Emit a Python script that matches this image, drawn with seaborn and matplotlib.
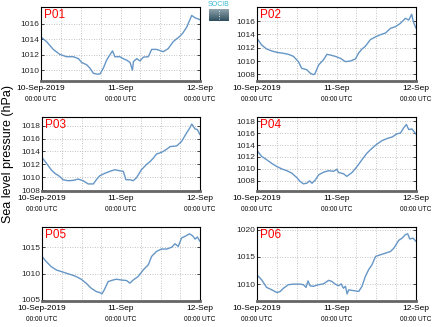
import numpy as np
import pandas as pd
import matplotlib
matplotlib.use("Agg")
import matplotlib.pyplot as plt
import seaborn as sns
from matplotlib.colors import LinearSegmentedColormap

sns.set_theme(style="white")
plt.rcParams['font.family'] = ['Liberation Sans', 'DejaVu Sans']

# hours since 10-Sep-2019 00:00 UTC
p01_h = [0, 1.7, 3.7, 5.7, 7.7, 9.8, 11.3, 12.3, 13.8, 14.8, 15.8, 16.8, 17.8, 18.8, 19.8, 20.8, 21.6, 22.3, 23.8, 24.8, 25.9, 26.9, 27.6, 27.9, 28.9, 29.9, 30.9, 32.4, 33.4, 34.9, 36.9, 38.4, 39.9, 41.9, 42.7, 44.0, 45.5, 46.5, 48.0]
p01_v = [1014.3, 1013.7, 1012.7, 1012.05, 1011.75, 1011.75, 1011.5, 1011.0, 1010.7, 1010.25, 1009.6, 1009.5, 1009.5, 1010.25, 1011.3, 1012.0, 1012.5, 1011.75, 1011.75, 1011.5, 1011.3, 1011.0, 1010.0, 1011.1, 1011.5, 1011.2, 1011.7, 1011.75, 1012.7, 1012.7, 1012.4, 1012.8, 1013.7, 1014.4, 1014.75, 1015.6, 1017.1, 1016.8, 1016.55]

p02_h = [0, 1.4, 2.9, 4.5, 6.0, 8.0, 9.5, 11.0, 12.5, 13.5, 15.0, 16.0, 17.0, 17.5, 18.6, 20.1, 21.1, 22.1, 23.6, 25.2, 26.7, 28.2, 29.7, 30.7, 31.7, 32.7, 34.2, 35.7, 37.3, 38.8, 40.3, 41.8, 43.3, 44.8, 45.8, 46.7, 47.2, 48.0]
p02_v = [1013.4, 1012.4, 1011.8, 1011.5, 1011.3, 1011.15, 1011.0, 1010.7, 1009.9, 1008.9, 1008.7, 1008.2, 1007.95, 1008.1, 1009.4, 1010.2, 1011.0, 1010.9, 1010.7, 1010.4, 1009.9, 1010.0, 1010.3, 1011.2, 1011.8, 1012.2, 1013.2, 1013.6, 1013.95, 1014.2, 1014.9, 1015.15, 1015.65, 1016.4, 1016.15, 1017.0, 1015.9, 1014.9]

p03_h = [0, 1.3, 2.8, 3.9, 5.4, 6.4, 7.9, 9.5, 11.0, 12.5, 14.0, 15.6, 16.5, 17.5, 19.1, 20.6, 22.1, 23.6, 24.7, 25.5, 26.7, 27.7, 28.7, 30.2, 31.8, 32.8, 33.8, 34.8, 36.3, 37.9, 38.9, 40.9, 42.4, 43.9, 44.9, 45.5, 46.5, 47.2, 48.0]
p03_v = [1013.05, 1012.2, 1011.15, 1010.6, 1010.1, 1009.6, 1009.45, 1009.5, 1009.7, 1009.45, 1008.95, 1008.95, 1009.6, 1010.2, 1010.6, 1010.9, 1011.15, 1011.0, 1010.9, 1009.6, 1009.6, 1009.45, 1009.9, 1011.15, 1012.0, 1012.4, 1012.95, 1013.6, 1013.85, 1014.35, 1014.75, 1014.85, 1015.55, 1016.85, 1017.65, 1018.25, 1017.5, 1017.4, 1016.6]

p04_h = [0, 1.4, 2.9, 4.5, 6.0, 7.5, 9.0, 10.5, 12.0, 13.0, 14.0, 15.0, 15.9, 16.6, 17.6, 18.6, 20.1, 21.6, 23.1, 24.1, 24.6, 26.1, 27.1, 28.7, 30.2, 31.7, 33.2, 34.8, 36.3, 37.8, 39.3, 40.8, 42.3, 43.3, 44.3, 45.1, 45.8, 46.8, 48.0]
p04_v = [1013.1, 1012.1, 1011.55, 1010.9, 1010.4, 1010.0, 1009.7, 1009.3, 1008.55, 1007.9, 1007.5, 1007.6, 1008.0, 1007.6, 1008.15, 1009.0, 1009.45, 1009.7, 1009.6, 1009.95, 1009.4, 1009.2, 1008.75, 1009.4, 1010.4, 1011.55, 1012.65, 1013.5, 1014.2, 1014.75, 1015.1, 1015.35, 1015.9, 1016.0, 1016.9, 1017.45, 1016.6, 1016.7, 1015.8]

p05_h = [0, 1.3, 2.8, 4.4, 5.9, 7.4, 8.9, 10.4, 11.9, 13.4, 15.0, 16.5, 17.6, 18.2, 18.9, 20.1, 21.6, 22.6, 24.1, 25.7, 26.7, 27.7, 29.2, 30.7, 32.3, 33.3, 34.8, 36.3, 37.9, 39.4, 40.4, 41.4, 42.4, 43.4, 44.8, 45.8, 46.5, 47.2, 48.0]
p05_v = [1013.3, 1012.3, 1011.35, 1010.7, 1010.4, 1010.1, 1009.8, 1009.45, 1008.95, 1008.2, 1007.2, 1006.6, 1006.4, 1006.15, 1006.9, 1008.5, 1008.8, 1008.95, 1008.8, 1008.7, 1008.2, 1008.8, 1009.45, 1010.7, 1011.7, 1013.3, 1014.25, 1014.7, 1014.7, 1015.05, 1015.7, 1015.2, 1016.8, 1017.1, 1017.6, 1017.2, 1016.6, 1017.0, 1016.15]

p06_h = [0, 1.4, 2.9, 4.5, 6.0, 7.0, 8.0, 9.5, 11.0, 13.0, 14.0, 14.8, 15.4, 16.0, 17.0, 18.6, 20.1, 21.6, 22.6, 23.6, 24.6, 25.4, 26.1, 26.7, 27.2, 27.7, 29.2, 30.7, 31.7, 32.7, 33.7, 34.7, 35.8, 37.3, 38.8, 40.3, 41.3, 42.8, 43.8, 44.8, 45.5, 46.1, 47.1, 48.0]
p06_v = [1011.7, 1010.8, 1009.4, 1008.95, 1008.45, 1008.65, 1009.25, 1009.9, 1010.0, 1010.0, 1009.9, 1009.4, 1010.6, 1009.7, 1009.6, 1009.9, 1010.05, 1010.7, 1010.5, 1010.0, 1009.7, 1010.05, 1009.25, 1009.6, 1008.2, 1008.95, 1008.8, 1008.65, 1009.6, 1011.4, 1012.65, 1013.55, 1015.1, 1015.4, 1015.7, 1016.0, 1016.6, 1018.05, 1018.45, 1019.1, 1019.25, 1018.3, 1018.45, 1017.85]

names = ["P01", "P02", "P03", "P04", "P05", "P06"]
hours = [p01_h, p02_h, p03_h, p04_h, p05_h, p06_h]
values = [p01_v, p02_v, p03_v, p04_v, p05_v, p06_v]
ylims = [(1008.6, 1018.2), (1007.0, 1018.1), (1007.85, 1019.35),
         (1006.3, 1018.7), (1004.8, 1018.9), (1006.9, 1020.5)]
yticks = [[1010, 1012, 1014, 1016], [1008, 1010, 1012, 1014, 1016],
          [1008, 1010, 1012, 1014, 1016, 1018], [1008, 1010, 1012, 1014, 1016, 1018],
          [1005, 1010, 1015], [1010, 1015, 1020]]
xtick_pos = [0, 24, 48]
xtick_top = ["10-Sep-2019", "11-Sep", "12-Sep"]
xtick_bot = ["00:00 UTC", "00:00 UTC", "00:00 UTC"]

W, H = 434, 327
fig = plt.figure(figsize=(W / 100, H / 100), dpi=100)

boxes = [(41, 7, 200, 81), (257, 7, 416, 81),
         (42, 117, 200, 191), (257, 117, 416, 191),
         (42, 227, 200, 301), (257, 227, 416, 301)]

line_color = "#6596c6"

for i in range(6):
    l, t, r, b = boxes[i]
    ax = fig.add_axes([l / W, 1 - b / H, (r - l) / W, (b - t) / H])
    df = pd.DataFrame({"h": hours[i], "v": values[i]})
    sns.lineplot(data=df, x="h", y="v", ax=ax, color=line_color, linewidth=1.0)
    ax.set_xlim(0, 48)
    ax.set_ylim(*ylims[i])
    ax.set_yticks(yticks[i])
    ax.set_yticklabels([str(v) for v in yticks[i]], fontsize=6)
    ax.set_xticks(xtick_pos)
    ax.set_xticklabels(xtick_top, fontsize=6)
    ax.set_xticks(np.arange(0, 49, 6), minor=True)
    ax.set_xlabel("")
    ax.set_ylabel("")
    ax.grid(True, which="both", axis="x", linestyle=(0, (1, 2)), color="#b0b0b0", linewidth=0.6)
    ax.grid(True, which="major", axis="y", linestyle=(0, (1, 2)), color="#b0b0b0", linewidth=0.6)
    ax.tick_params(axis="x", which="major", direction="in", length=3, width=0.8, pad=3,
                   colors="black")
    ax.tick_params(axis="x", which="minor", direction="in", length=2, width=0.8)
    ax.tick_params(axis="y", direction="in", length=2, width=0.6, pad=1.5,
                   right=True, left=True)
    for s in ["top", "left", "right"]:
        ax.spines[s].set_color("black")
        ax.spines[s].set_linewidth(0.8)
    ax.spines["bottom"].set_color("#666666")
    ax.spines["bottom"].set_linewidth(2.0)
    for x, lab in zip(xtick_pos, xtick_bot):
        ax.annotate(lab, xy=(x, 0), xycoords=("data", "axes fraction"),
                    xytext=(0, -13), textcoords="offset points",
                    ha="center", va="center", fontsize=4.7, color="black")
    ax.text(0.02, 0.97, names[i], transform=ax.transAxes, color="red",
            fontsize=8.5, ha="left", va="top")

fig.text(8 / W, 1 - 154 / H, "Sea level pressure (hPa)", rotation=90,
         ha="center", va="center", fontsize=9, color="black")

# small logo
lax = fig.add_axes([209 / W, 1 - 21 / H, 20 / W, 12 / H])
grad = np.linspace(0, 1, 50).reshape(-1, 1)
cmap = LinearSegmentedColormap.from_list("lg", ["#8fa3ae", "#2e4f5e"])
lax.imshow(grad, aspect="auto", cmap=cmap, extent=[0, 1, 0, 1], origin="upper")
lax.plot([0.5, 0.5], [0.15, 0.9], color="white", linestyle=(0, (1, 2)), linewidth=0.6)
lax.set_xlim(0, 1)
lax.set_ylim(0, 1)
lax.axis("off")
fig.text(219 / W, 1 - 5 / H, "SOCIB", color="#3ab8d0", fontsize=5, ha="center", va="center")

fig.savefig("out.png", dpi=100)
